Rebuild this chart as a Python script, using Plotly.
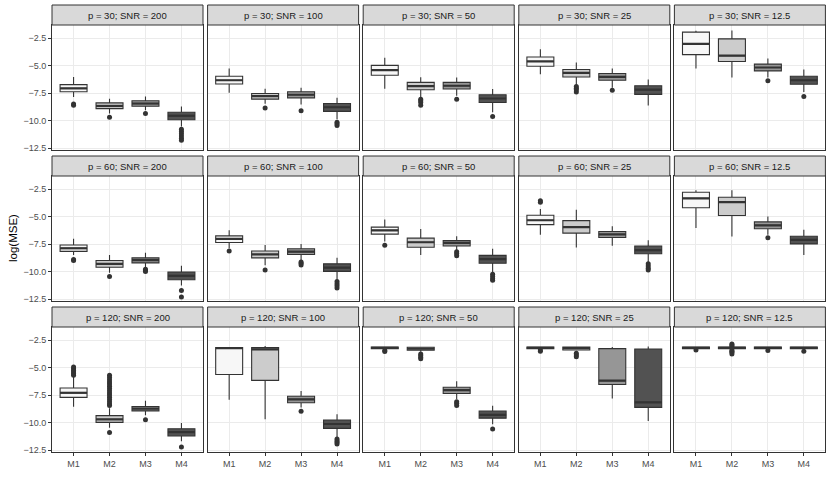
import plotly.graph_objects as go

# facet labels
p_values = [30, 60, 120]
snr_values = ["200", "100", "50", "25", "12.5"]
methods = ["M1", "M2", "M3", "M4"]
fills = ["#F7F7F7", "#CCCCCC", "#969696", "#525252"]

# box stats per panel (row by row: p=30, p=60, p=120; SNR 200..12.5), each [M1, M2, M3, M4]
lower = [
    [-7.85, -9.35, -9.05, -10.55], [-7.47, -8.48, -8.54, -9.89], [-7.10, -7.87, -7.75, -9.25],
    [-5.78, -6.79, -7.01, -8.63], [-5.26, -6.09, -6.09, -7.41],
    [-8.50, -10.10, -9.58, -11.27], [-7.88, -9.42, -8.96, -10.75], [-7.27, -8.50, -8.04, -10.04],
    [-6.65, -7.82, -7.64, -9.12], [-6.04, -6.81, -6.65, -8.50],
    [-8.57, -10.48, -9.34, -11.70], [-7.93, -9.70, -8.62, -11.33], [-3.35, -3.55, -7.88, -10.16],
    [-3.32, -3.45, -7.82, -9.85], [-3.32, -3.32, -3.32, -3.32],
]
q1 = [
    [-7.38, -8.91, -8.70, -9.92], [-6.67, -8.05, -7.93, -9.16], [-5.87, -7.19, -7.13, -8.36],
    [-5.05, -6.03, -6.33, -7.62], [-4.00, -4.62, -5.48, -6.70],
    [-8.16, -9.61, -9.21, -10.75], [-7.36, -8.75, -8.44, -9.98], [-6.59, -7.79, -7.67, -9.24],
    [-5.73, -6.50, -6.90, -8.38], [-4.19, -4.90, -6.10, -7.48],
    [-7.71, -9.98, -8.94, -11.21], [-5.63, -6.16, -8.19, -10.53], [-3.28, -3.42, -7.36, -9.60],
    [-3.28, -3.40, -6.53, -8.62], [-3.28, -3.28, -3.28, -3.28],
]
median = [
    [-7.07, -8.67, -8.45, -9.56], [-6.33, -7.78, -7.65, -8.79], [-5.41, -6.86, -6.83, -7.99],
    [-4.62, -5.66, -6.03, -7.19], [-3.02, -4.09, -5.17, -6.33],
    [-7.88, -9.30, -8.96, -10.38], [-7.02, -8.44, -8.19, -9.64], [-6.25, -7.33, -7.39, -8.87],
    [-5.33, -5.95, -6.62, -8.04], [-3.33, -3.67, -5.79, -7.12],
    [-7.29, -9.71, -8.73, -10.87], [-3.22, -3.33, -7.88, -10.13], [-3.20, -3.28, -7.05, -9.30],
    [-3.20, -3.22, -6.19, -8.16], [-3.20, -3.20, -3.20, -3.20],
]
q3 = [
    [-6.73, -8.39, -8.20, -9.25], [-5.97, -7.53, -7.38, -8.45], [-4.98, -6.52, -6.52, -7.65],
    [-4.22, -5.35, -5.72, -6.83], [-1.95, -2.56, -4.86, -5.97],
    [-7.58, -8.99, -8.75, -10.04], [-6.75, -8.13, -7.92, -9.30], [-5.95, -6.96, -7.18, -8.53],
    [-4.87, -5.36, -6.35, -7.67], [-2.78, -3.24, -5.48, -6.78],
    [-6.86, -9.37, -8.54, -10.57], [-3.17, -3.18, -7.61, -9.76], [-3.13, -3.15, -6.78, -8.96],
    [-3.13, -3.13, -3.27, -3.30], [-3.13, -3.13, -3.13, -3.13],
]
upper = [
    [-6.03, -8.02, -7.81, -8.73], [-5.26, -7.10, -7.01, -7.93], [-4.28, -6.06, -6.09, -7.13],
    [-3.51, -4.71, -5.26, -6.27], [-1.83, -1.80, -4.34, -5.35],
    [-7.02, -8.50, -8.28, -9.48], [-6.25, -7.58, -7.48, -8.75], [-5.27, -6.13, -6.78, -7.92],
    [-4.30, -4.38, -5.88, -7.15], [-2.59, -2.59, -4.99, -6.19],
    [-5.81, -8.70, -8.02, -10.05], [-3.14, -3.02, -7.12, -9.24], [-3.08, -3.10, -6.25, -8.47],
    [-3.10, -3.10, -3.12, -3.08], [-3.10, -3.10, -3.10, -3.10],
]
outliers = [
    [[-8.5, -8.6], [-9.7], [-9.35], [-10.8, -11.0, -11.2, -11.4, -11.6, -11.8]],
    [[], [-8.85], [-9.1], [-10.15, -10.3, -10.45]],
    [[], [-8.05, -8.2, -8.35, -8.6], [-8.05], [-9.62]],
    [[], [-6.9, -7.05, -7.2, -7.4], [-7.25], []],
    [[], [], [-6.37], [-7.81]],
    [[-8.9, -9.0], [-10.44], [-9.8, -9.9, -10.0], [-11.73, -12.32]],
    [[-8.13], [-9.85], [-9.12, -9.25, -9.4], [-10.9, -11.1, -11.3, -11.5]],
    [[-7.6], [], [-8.2, -8.35, -8.55], [-10.25, -10.45, -10.65, -10.8]],
    [[-3.55, -3.7], [], [], [-9.3, -9.5, -9.7, -9.85]],
    [[], [], [-6.93], []],
    [[-4.95, -5.1, -5.25, -5.4, -5.55, -5.7],
     [-5.7, -5.9, -6.1, -6.3, -6.5, -6.7, -6.9, -7.1, -7.3, -7.5, -7.7, -7.9, -8.1, -8.3, -8.45, -10.9],
     [-9.74], [-12.22]],
    [[], [], [-8.96], [-11.5, -11.65, -11.8, -11.95]],
    [[-3.45, -3.52], [-3.75, -3.9, -4.05, -4.2], [-8.1, -8.25, -8.45], [-10.59]],
    [[-3.4, -3.5], [-3.7, -3.85, -4.0], [], []],
    [[-3.4], [-2.85, -2.95, -3.05, -3.4, -3.5, -3.6, -3.75], [-3.45], [-3.5]],
]

W, H = 830, 485
left, pw, step = 52, 151, 155.6
top0, strip_h, ph, gap = 5, 20, 125, 6
box_w = 0.75
ytick_vals = [-12.5, -10, -7.5, -5, -2.5]
ytick_text = ["\u221212.5", "\u221210.0", "\u22127.5", "\u22125.0", "\u22122.5"]
xpos = [1, 2, 3, 4]

fig = go.Figure()
layout = {}
shapes, annotations = [], []
font = "Liberation Sans, Arial, sans-serif"

for r in range(3):
    for c in range(5):
        k = r * 5 + c
        n = "" if k == 0 else str(k + 1)
        x0 = left + c * step
        x1 = x0 + pw
        s_top = top0 + r * (strip_h + ph + gap)
        p_top = s_top + strip_h
        p_bot = p_top + ph
        layout["xaxis" + n] = dict(
            domain=[x0 / W, x1 / W], anchor="y" + n, range=[0.4, 4.6],
            tickvals=xpos, ticktext=methods,
            showgrid=True, gridcolor="#EBEBEB", gridwidth=1, zeroline=False,
            showline=True, mirror=True, linecolor="#333333", linewidth=1,
            ticks="outside" if r == 2 else "", ticklen=3, tickcolor="#333333",
            showticklabels=(r == 2), tickfont=dict(size=9, color="#4D4D4D", family=font),
            automargin=False,
        )
        layout["yaxis" + n] = dict(
            domain=[1 - p_bot / H, 1 - p_top / H], anchor="x" + n, range=[-12.68, -1.3],
            tickvals=ytick_vals, ticktext=ytick_text,
            showgrid=True, gridcolor="#EBEBEB", gridwidth=1, zeroline=False,
            showline=True, mirror=True, linecolor="#333333", linewidth=1,
            ticks="outside" if c == 0 else "", ticklen=3, tickcolor="#333333",
            showticklabels=(c == 0), tickfont=dict(size=9, color="#4D4D4D", family=font),
            automargin=False,
        )
        shapes.append(dict(type="rect", xref="paper", yref="paper",
                           x0=x0 / W, x1=x1 / W, y0=1 - p_top / H, y1=1 - s_top / H,
                           fillcolor="#D9D9D9", line=dict(color="#333333", width=1)))
        annotations.append(dict(xref="paper", yref="paper", x=(x0 + x1) / 2 / W,
                                y=1 - (s_top + strip_h / 2) / H, showarrow=False,
                                xanchor="center", yanchor="middle",
                                text=f"p = {p_values[r]}; SNR = {snr_values[c]}",
                                font=dict(size=9.5, color="#1A1A1A", family=font)))
        med_x, med_y = [], []
        for m in range(4):
            fig.add_trace(go.Box(
                x=[xpos[m]], q1=[q1[k][m]], median=[median[k][m]], q3=[q3[k][m]],
                lowerfence=[lower[k][m]], upperfence=[upper[k][m]],
                fillcolor=fills[m], line=dict(color="#333333", width=1.1),
                whiskerwidth=0, width=box_w, boxpoints=False,
                xaxis="x" + n, yaxis="y" + n, showlegend=False, hoverinfo="skip",
            ))
            med_x += [xpos[m] - box_w / 2, xpos[m] + box_w / 2, None]
            med_y += [median[k][m], median[k][m], None]
            if outliers[k][m]:
                fig.add_trace(go.Scatter(
                    x=[xpos[m]] * len(outliers[k][m]), y=outliers[k][m], mode="markers",
                    marker=dict(color="#333333", size=5),
                    xaxis="x" + n, yaxis="y" + n, showlegend=False, hoverinfo="skip",
                ))
        # ggplot draws the median thicker than the box outline
        fig.add_trace(go.Scatter(
            x=med_x, y=med_y, mode="lines", line=dict(color="#333333", width=2.2),
            xaxis="x" + n, yaxis="y" + n, showlegend=False, hoverinfo="skip",
        ))

annotations.append(dict(xref="paper", yref="paper", x=13 / W, y=1 - 238 / H,
                        xanchor="center", yanchor="middle",
                        text="log(MSE)", textangle=-90, showarrow=False,
                        font=dict(size=11.5, color="#000000", family=font)))

fig.update_layout(
    **layout,
    shapes=shapes, annotations=annotations,
    width=W, height=H, margin=dict(l=0, r=0, t=0, b=0, autoexpand=False),
    paper_bgcolor="white", plot_bgcolor="white",
    boxmode="overlay", showlegend=False,
)

fig.write_html("out.html", config={"displayModeBar": False},
               post_script="document.body.style.margin='0px';")
